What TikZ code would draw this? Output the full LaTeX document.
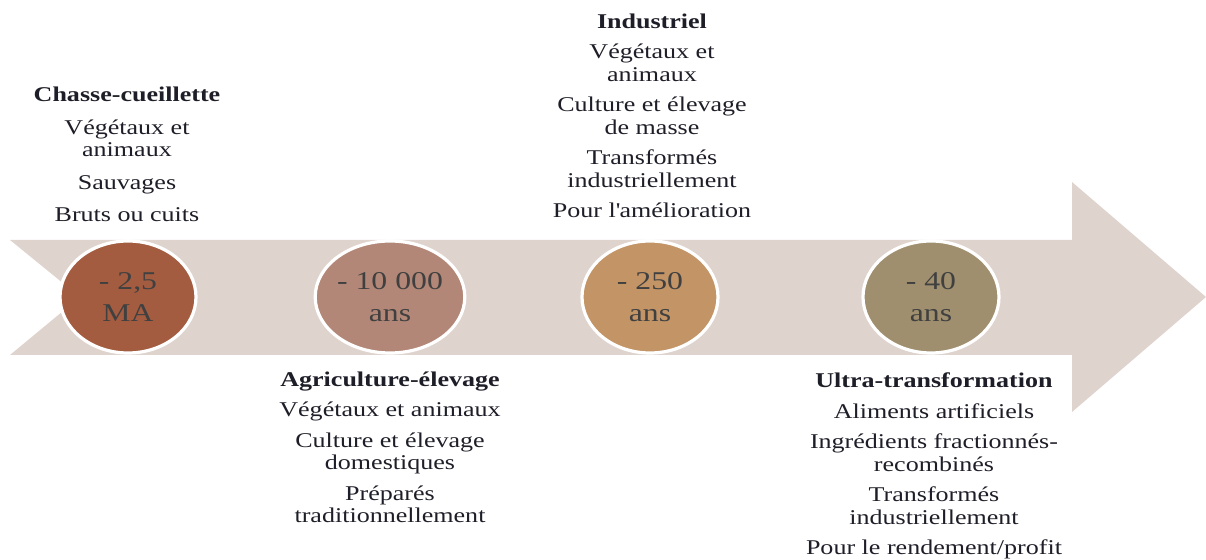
\documentclass[tikz,border=0pt]{standalone}
\usepackage{fontspec}
\setmainfont{Liberation Serif}[FakeStretch=1.24]
\usepackage{xcolor}
\usepackage{tikz}
\usetikzlibrary{shapes.geometric}

\definecolor{fleche}{HTML}{DFD3CE}
\definecolor{chasse}{HTML}{A35C40}
\definecolor{agri}{HTML}{B38777}
\definecolor{indus}{HTML}{C29466}
\definecolor{ultra}{HTML}{A08F6E}
\definecolor{encre}{HTML}{1E1E28}

\tikzset{
    epoque/.style={ellipse, draw=white, line width=1.6pt, minimum width=68pt, minimum height=56pt,
        inner sep=0pt, align=center, text=black!75, font=\fontsize{12.8}{16}\selectfont},
    etape/.style={align=center, anchor=base, inner sep=0pt, text=encre, font=\fontsize{10.5}{11.25}\selectfont}
}

\begin{document}
\begin{tikzpicture}[x=0.5pt, y=-0.5pt]
        \useasboundingbox (0,0) rectangle (1206,560);

        % la fleche du temps
        \fill[fleche] (10,240) -- (1072,240) -- (1072,182) -- (1206,297) -- (1072,412) -- (1072,355) -- (10,355) -- (80,297) -- cycle;

        \node[epoque, fill=chasse] (ma) at (128,297) {- 2,5\\MA};
        \node[epoque, fill=agri] (dixmille) at (390,297) {- 10 000\\ans};
        \node[epoque, fill=indus] (deuxcent) at (650,297) {- 250\\ans};
        \node[epoque, fill=ultra] (quarante) at (931,297) {- 40\\ans};

        % blocs de texte, places sur la ligne de base de leur derniere ligne
        \node[etape] (cueillette) at (127,222) {\textbf{Chasse-cueillette}\\[5pt]
            Végétaux et\\animaux\\[5pt]Sauvages\\[5pt]Bruts ou cuits};
        \node[etape] (industriel) at (652,218) {\textbf{Industriel}\\[4pt]
            Végétaux et\\animaux\\[4pt]Culture et élevage\\de masse\\[4pt]
            Transformés\\industriellement\\[4pt]Pour l\textquotesingle amélioration};
        \node[etape] (agriculture) at (390,523) {\textbf{Agriculture-élevage}\\[4pt]
            Végétaux et animaux\\[4pt]Culture et élevage\\domestiques\\[4pt]
            Préparés\\traditionnellement};
        \node[etape] (ultratransfo) at (934,555) {\textbf{Ultra-transformation}\\[4pt]
            Aliments artificiels\\[4pt]Ingrédients fractionnés-\\recombinés\\[4pt]
            Transformés\\industriellement\\[4pt]Pour le rendement/profit};
    \end{tikzpicture}
\end{document}
